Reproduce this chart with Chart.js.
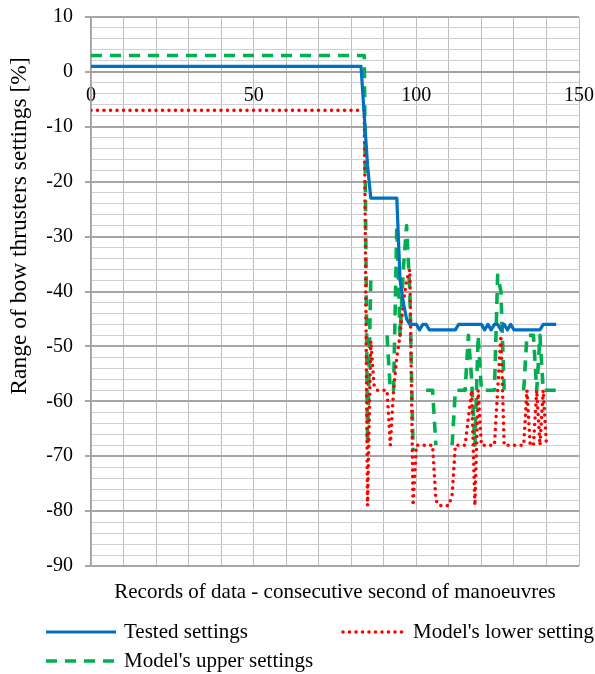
<!DOCTYPE html>
<html>
<head>
<meta charset="utf-8">
<script src="https://cdn.jsdelivr.net/npm/chart.js@4.4.1/dist/chart.umd.min.js"></script>
<style>
  html, body { margin: 0; padding: 0; background: #fff; }
  canvas { display: block; }
</style>
</head>
<body>
<canvas id="chart" width="595" height="674"></canvas>
<script>
// records (seconds) where the settings were read; the flat start is one segment
const seconds = [0,
  83, 84, 85, 86, 87, 88, 89, 90, 91, 92,
  93, 94, 95, 96, 97, 98, 99, 100, 101, 102,
  103, 104, 105, 106, 107, 108, 109, 110, 111, 112,
  113, 114, 115, 116, 117, 118, 119, 120, 121, 122,
  123, 124, 125, 126, 127, 128, 129, 130, 131, 132,
  133, 134, 135, 136, 137, 138, 139, 140, 141, 142,
  143];

const tested = [1,
  1, -8, -17, -23, -23, -23, -23, -23, -23, -23,
  -23, -23, -38, -42, -45, -46, -46, -46, -47, -46,
  -46, -47, -47, -47, -47, -47, -47, -47, -47, -47,
  -46, -46, -46, -46, -46, -46, -46, -46, -47, -46,
  -47, -46, -46, -47, -46, -47, -46, -47, -47, -47,
  -47, -47, -47, -47, -47, -47, -46, -46, -46, -46,
  -46];

const lower = [-7,
  -7, -7, -79, -49, -57, -58, -58, -58, -58, -68,
  -58, -52, -48, -42, -38, -36, -79, -68, -68, -68,
  -68, -68, -68, -78, -79, -79, -79, -79, -77, -68,
  -68, -68, -68, -63, -58, -79, -58, -68, -68, -68,
  -68, -68, -58, -48, -68, -68, -68, -68, -68, -68,
  -68, -58, -68, -68, -58, -68, -58, -68, null, null,
  null];

const upper = [3,
  3, 3, -68, -38, null, null, null, null, -48, -58,
  -58, -28, -48, -36, -28, -40, -69, null, null, null,
  -58, -58, -58, -68, null, null, null, null, -68, -58,
  -58, -58, -58, -48, -56, -68, -48, -58, -58, -58,
  -58, -58, -37, -40, -58, -58, -58, null, null, null,
  -58, -48, -48, -48, -58, -48, -58, -58, -58, -58,
  -58];

const seriesNames = ['Tested settings', "Model's lower settings", "Model's upper settings"];
const xTickLabels = [0, 50, 100, 150];
const yTickLabels = [10, 0, -10, -20, -30, -40, -50, -60, -70, -80, -90];
const xTitle = 'Records of data - consecutive second of manoeuvres';
const yTitle = 'Range of bow thrusters settings [%]';

const serif = '"Liberation Serif", "Times New Roman", serif';
Chart.defaults.font.family = serif;
Chart.defaults.color = '#000';

const toPoints = (values) => seconds.map((s, i) => ({ x: s, y: values[i] }));

// titulos y leyenda fuera del area del grafico
const decorations = {
  id: 'decorations',
  afterDraw(chart) {
    const ctx = chart.ctx;
    const area = chart.chartArea;
    ctx.save();
    ctx.fillStyle = '#000';
    ctx.textBaseline = 'middle';

    ctx.font = '21px ' + serif;
    ctx.textAlign = 'center';
    ctx.fillText(xTitle, (area.left + area.right) / 2, 592);

    ctx.save();
    ctx.translate(20, 226);
    ctx.rotate(-Math.PI / 2);
    ctx.font = '23.5px ' + serif;
    ctx.fillText(yTitle, 0, 0);
    ctx.restore();

    const slots = [
      { x: 46, y: 632, w: 70 },
      { x: 343, y: 632, w: 62 },
      { x: 46, y: 661, w: 70 }
    ];
    ctx.textAlign = 'left';
    ctx.font = '21px ' + serif;
    chart.data.datasets.forEach((ds, i) => {
      const s = slots[i];
      ctx.save();
      ctx.strokeStyle = ds.borderColor;
      ctx.lineWidth = ds.borderWidth;
      ctx.lineCap = ds.borderCapStyle || 'butt';
      ctx.setLineDash(ds.borderDash || []);
      ctx.beginPath();
      ctx.moveTo(s.x, s.y);
      ctx.lineTo(s.x + s.w, s.y);
      ctx.stroke();
      ctx.restore();
      ctx.fillText(ds.label, s.x + s.w + 8, s.y);
    });
    ctx.restore();
  }
};

const isMajor = (ctx) => ctx.tick && ctx.tick.value % 10 === 0;

new Chart(document.getElementById('chart'), {
  type: 'line',
  data: {
    datasets: [
      {
        label: seriesNames[0], data: toPoints(tested),
        borderColor: '#0070c0', borderWidth: 3.2, borderJoinStyle: 'round',
        pointRadius: 0, tension: 0
      },
      {
        label: seriesNames[1], data: toPoints(lower),
        borderColor: '#ff0000', borderWidth: 3.6, borderDash: [0, 6.5],
        borderCapStyle: 'round', borderJoinStyle: 'round', pointRadius: 0, tension: 0
      },
      {
        label: seriesNames[2], data: toPoints(upper),
        borderColor: '#00b050', borderWidth: 3.6, borderDash: [11, 8],
        borderCapStyle: 'butt', borderJoinStyle: 'round', pointRadius: 0, tension: 0
      }
    ]
  },
  options: {
    responsive: false, animation: false, devicePixelRatio: 1,
    layout: { padding: { top: 17, right: 16, bottom: 108, left: 0 } },
    plugins: { legend: { display: false }, tooltip: { enabled: false } },
    scales: {
      x: {
        type: 'linear', min: 0, max: 150,
        position: { y: 0 },
        afterFit: (scale) => {
          scale.height = 0;
          scale.paddingLeft = 0;
          scale.paddingRight = 0;
        },
        ticks: {
          stepSize: 10, maxTicksLimit: 100, autoSkip: false, maxRotation: 0, padding: 12,
          font: { size: 20 }, color: '#000',
          callback: (v) => xTickLabels.includes(v) ? String(v) : ''
        },
        grid: { color: '#bdbdbd', lineWidth: 1, drawTicks: false },
        border: { color: '#a0a0a0', width: 2 }
      },
      y: {
        min: -90, max: 10,
        afterFit: (scale) => {
          scale.width = 91;
          scale.paddingTop = 0;
          scale.paddingBottom = 0;
        },
        ticks: {
          stepSize: 2, maxTicksLimit: 100, autoSkip: false, padding: 12,
          font: { size: 20 }, color: '#000',
          callback: (v) => yTickLabels.includes(v) ? String(v) : ''
        },
        grid: {
          color: (ctx) => isMajor(ctx) ? '#a6a6a6' : '#d0d0d0',
          lineWidth: (ctx) => isMajor(ctx) ? 2 : 1,
          tickColor: (ctx) => isMajor(ctx) ? '#a6a6a6' : 'rgba(0,0,0,0)',
          tickLength: 6, drawTicks: true
        },
        border: { color: '#a0a0a0', width: 1.5 }
      }
    }
  },
  plugins: [decorations]
});
</script>
</body>
</html>
